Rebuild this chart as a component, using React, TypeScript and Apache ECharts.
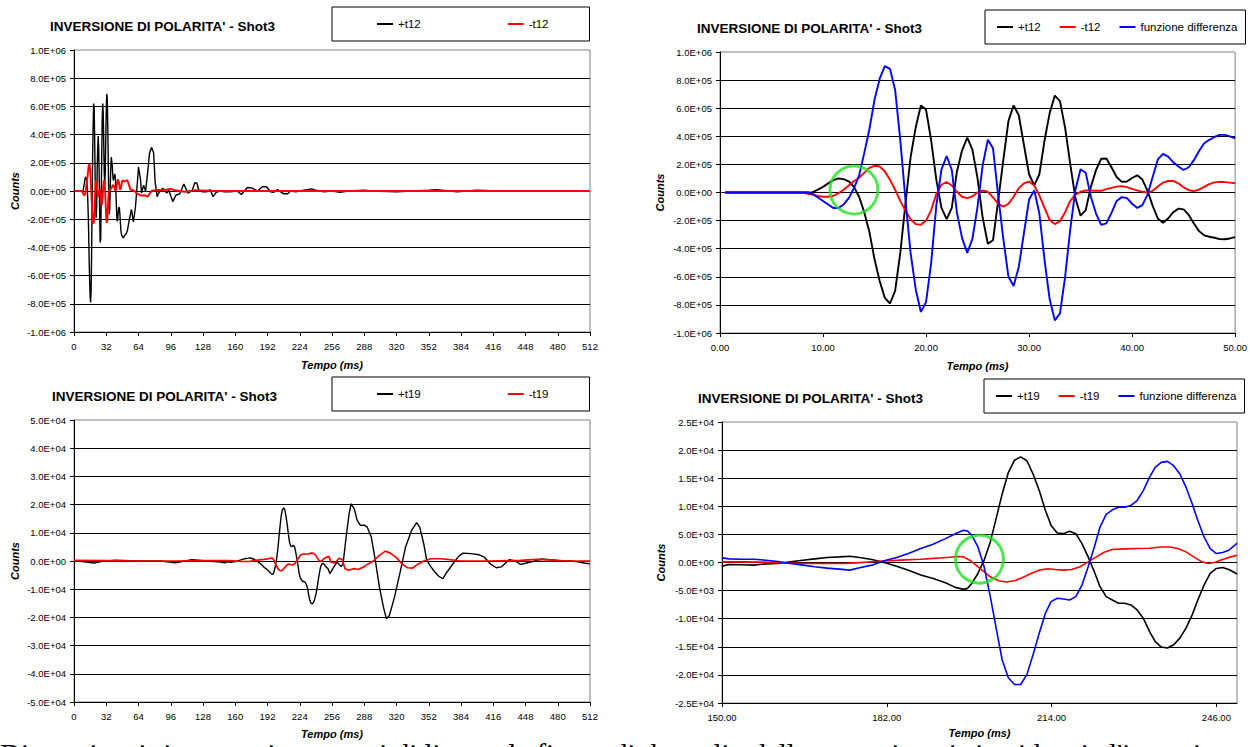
import React, { useEffect, useRef } from 'react';
import * as echarts from 'echarts';

// ---------- Trace 12: first 50 ms (sample times in ms, values in counts) ----------
const t12ZoomTime = [
  0.5, 8, 8.5, 9, 9.5, 10, 10.5, 11, 11.5, 12,
  12.5, 13, 13.5, 14, 14.5, 15, 15.5, 16, 16.5, 17,
  17.5, 18, 18.5, 19, 19.5, 20, 20.5, 21, 21.5, 22,
  22.5, 23, 23.5, 24, 24.5, 25, 25.5, 26, 26.5, 27,
  27.5, 28, 28.5, 29, 29.5, 30, 30.5, 31, 31.5, 32,
  32.5, 33, 33.5, 34, 34.5, 35, 35.5, 36, 36.5, 37,
  37.5, 38, 38.5, 39, 39.5, 40, 40.5, 41, 41.5, 42,
  42.5, 43, 43.5, 44, 44.5, 45, 45.5, 46, 46.5, 47,
  47.5, 48, 48.5, 49, 49.5, 50,
];
const t12ZoomPlus = [
  0, 0, 0, 3000, 20000, 40000, 65000, 88000, 100000, 95000,
  80000, 40000, -30000, -140000, -280000, -475000, -630000, -750000, -790000, -700000,
  -430000, -80000, 250000, 465000, 620000, 590000, 370000, 90000, -110000, -190000,
  -110000, 150000, 300000, 390000, 305000, 100000, -180000, -365000, -340000, -60000,
  230000, 510000, 620000, 550000, 340000, 130000, 50000, 130000, 370000, 565000,
  690000, 650000, 460000, 200000, -40000, -165000, -125000, 40000, 160000, 240000,
  242000, 180000, 110000, 76000, 78000, 103000, 122000, 92000, 12000, -95000,
  -185000, -215000, -185000, -140000, -115000, -120000, -160000, -220000, -275000, -305000,
  -315000, -322000, -332000, -333000, -327000, -318000,
];
const t12ZoomMinus = [
  0, 0, -10000, -15000, -25000, -30000, -30000, -25000, -5000, 20000,
  50000, 80000, 105000, 140000, 175000, 190000, 185000, 150000, 90000, 20000,
  -60000, -130000, -190000, -225000, -230000, -200000, -125000, -10000, 55000, 75000,
  50000, 5000, -30000, -40000, -28000, 0, 14000, 5000, -35000, -80000,
  -100000, -80000, -30000, 30000, 65000, 78000, 50000, -20000, -110000, -195000,
  -225000, -205000, -140000, -60000, -15000, 5000, 14000, 13000, 12000, 12000,
  24000, 33000, 42000, 45000, 38000, 26000, 15000, 5000, 0, 12000,
  42000, 70000, 82000, 82000, 65000, 38000, 16000, 10000, 20000, 40000,
  60000, 72000, 76000, 74000, 70000, 66000,
];
const t12ZoomDiff = [
  0, 0, 0, -10000, -35000, -60000, -85000, -110000, -110000, -85000,
  -40000, 30000, 120000, 280000, 450000, 660000, 810000, 900000, 880000, 730000,
  375000, -50000, -430000, -690000, -850000, -780000, -500000, -90000, 165000, 260000,
  160000, -145000, -325000, -430000, -330000, -100000, 195000, 375000, 315000, -20000,
  -330000, -600000, -665000, -530000, -290000, -50000, 15000, -150000, -480000, -760000,
  -910000, -860000, -600000, -260000, 20000, 165000, 140000, -30000, -150000, -230000,
  -220000, -145000, -60000, -33000, -40000, -80000, -110000, -90000, -15000, 110000,
  235000, 275000, 255000, 215000, 185000, 160000, 180000, 230000, 295000, 350000,
  375000, 395000, 410000, 410000, 400000, 385000,
];

// ---------- Trace 12: remainder of the record ----------
const t12TailTime = [
  52, 53, 55, 57, 59, 61, 63, 64, 66, 67,
  69, 71, 73, 75, 77, 79, 80.5, 82.5, 84, 88,
  92, 94, 98, 101, 105, 109, 113, 117, 120, 122,
  124, 128, 132, 135, 138, 141, 145, 149, 155, 162,
  166, 172, 177, 182, 187, 191, 195, 198, 202, 208,
  212, 215, 220, 228, 236, 240, 248, 256, 264, 272,
  288, 296, 320, 352, 360, 380, 400, 420, 460, 512,
];
const t12TailPlus = [
  -300000, -280000, -200000, -130000, -220000, -110000, 70000, 170000, 80000, -15000,
  40000, 0, 125000, 270000, 310000, 270000, 65000, -40000, -15000, 20000,
  -15000, 5000, -75000, -30000, -20000, 50000, -15000, 0, 60000, 55000,
  0, -5000, -5000, 10000, -40000, -10000, 0, -5000, -5000, 0,
  -25000, 25000, 20000, 0, 30000, 30000, -5000, -10000, 10000, -20000,
  -20000, 0, -5000, 5000, 15000, 5000, -5000, 0, -10000, 0,
  5000, 0, -5000, 5000, 10000, -5000, 5000, 0, 0, 0,
];
const t12TailMinusTime = [53, 56, 60, 63, 67, 70, 73, 77, 82, 88, 96, 100, 110, 120, 140, 200, 300, 400, 512];
const t12TailMinus = [78000, 10000, 0, -20000, -33000, -30000, -40000, 0, 7000, 5000, 14000, 5000, -5000, 5000, 0, 0, 0, 0, 0];

// ---------- Trace 19: 150-250 ms ----------
const t19ZoomTime = [
  150, 151.4, 153.8, 156.2, 158.5, 160.9, 163.3, 165.7, 168, 170.4,
  172.8, 174.8, 176.7, 179.1, 181.5, 183.9, 186.2, 188.6, 191, 193.4,
  195.3, 196.9, 197.7, 198.5, 199.7, 200.9, 202.1, 203.3, 204.4, 205.6,
  206.8, 208, 209.2, 210.4, 211.6, 212.8, 213.9, 215.1, 216.3, 217.5,
  218.7, 219.9, 221.1, 222.3, 223.4, 224.6, 225.8, 227, 228.2, 229.4,
  230.6, 231.8, 233, 234.1, 235.3, 236.5, 237.7, 238.9, 240.1, 241.3,
  242.4, 243.6, 244.8, 246, 247.2, 248.4, 249.6, 250,
];
const t19ZoomPlus = [
  -650, -350, -400, -470, -240, -180, 120, 410, 650, 890,
  1000, 1120, 890, 530, 0, -650, -1360, -2240, -2830, -3600,
  -4430, -4780, -4600, -3720, -1950, 410, 3660, 8080, 12200, 16000,
  18200, 18800, 18100, 15750, 12800, 9260, 6600, 5250, 5130, 5550,
  5130, 3360, 1000, -1650, -4300, -6080, -6670, -7260, -7260, -7550,
  -8440, -9900, -12270, -14040, -15050, -15220, -14630, -13450, -11680, -9320,
  -6670, -4010, -1950, -1060, -890, -1240, -1830, -2060,
];
const t19ZoomDiff = [
  830, 650, 590, 590, 410, 180, -180, -470, -770, -1000,
  -1180, -1360, -940, -470, 300, 890, 1590, 2480, 3250, 4250,
  5130, 5720, 5600, 4840, 2770, -770, -6080, -12000, -17300, -20500,
  -21700, -21700, -19950, -16400, -12570, -9030, -6960, -6370, -6490, -6670,
  -6080, -4010, -770, 2770, 6310, 8560, 9380, 9850, 9850, 10150,
  11030, 12800, 15160, 16930, 17820, 18000, 17230, 15750, 13400, 10440,
  7490, 4540, 2480, 1590, 1770, 2180, 3070, 3480,
];
const t19ZoomMinusTime = [
  150, 153.8, 157.8, 161.7, 165.7, 169.6, 173.6, 176, 179.1, 182.3,
  185.5, 188.6, 191.8, 194.2, 195.7, 196.9, 198.1, 199.3, 200.5, 202.1,
  203.7, 205.2, 206.8, 208.4, 210, 211.6, 213.2, 214.7, 216.3, 217.9,
  219.5, 221.1, 222.7, 224.2, 225.8, 228.2, 230.6, 233, 235.3, 236.9,
  238.5, 240.1, 241.6, 243.2, 244.4, 245.6, 247.2, 248.8, 250,
];
const t19ZoomMinus = [
  120, 120, 60, -60, -180, -180, -180, -60, 120, 300,
  470, 590, 770, 940, 1060, 1000, 410, -470, -1360, -2540,
  -3250, -3480, -3250, -2660, -1950, -1360, -1120, -1240, -1360, -1240,
  -770, 120, 1000, 1830, 2300, 2420, 2480, 2540, 2770, 2770,
  2480, 1890, 1000, 120, -180, 0, 530, 1000, 1300,
];

// ---------- Trace 19: before 150 ms and after 250 ms ----------
const t19HeadTime = [0, 8, 20, 27, 41, 56, 71, 86, 101, 117, 132, 145];
const t19HeadPlus = [0, -200, -700, -200, 300, 100, 0, 0, -600, 500, 0, -400];
const t19HeadMinusTime = [0, 30, 60, 100, 130, 145];
const t19HeadMinus = [200, 100, 0, 0, 100, 100];

const t19TailTime = [
  252, 254, 258, 261, 265, 267, 270, 273, 275, 278,
  281, 284, 288, 291, 295, 299, 303, 307, 310, 313,
  318, 324, 329, 335, 340, 343, 347, 350, 354, 358,
  362, 366, 369, 375, 381, 386, 394, 402, 407, 413,
  419, 424, 432, 438, 443, 449, 457, 464, 472, 478,
  485, 493, 500, 506, 512,
];
const t19TailPlus = [
  -2700, -4500, -2000, -400, -2000, -1000, 8500, 16800, 20300, 18600,
  14400, 12700, 12700, 12000, 8500, 200, -9200, -16300, -20500, -19300,
  -12800, -3300, 5000, 10900, 13600, 12000, 6200, 200, -2000, -3900,
  -5400, -6300, -4500, -1500, 1400, 2800, 2600, 2200, 1400, -1000,
  -2400, -2100, 500, 0, -1200, -700, 0, 700, 500, 300,
  0, 0, -300, -700, -1000,
];
const t19TailMinusTime = [
  253, 255, 259, 263, 266, 269, 272, 278, 282, 288,
  291, 297, 303, 309, 314, 320, 326, 331, 336, 341,
  347, 354, 364, 373, 383, 413, 443, 459, 474, 489,
  512,
];
const t19TailMinus = [
  1600, -400, -700, 1000, 500, -2700, -3300, -2700, -3000, -2000,
  -1200, 0, 2000, 3500, 2800, 1200, -1200, -2400, -2500, -1200,
  0, 800, 800, 500, 0, 0, 200, 600, 300, 0,
  0,
];

// Points where the polarity inversion is circled (time ms, counts)
const inversionT12 = [13.0, 18000];
const inversionT19 = [200.0, 600];

const chartTitle = "INVERSIONE DI POLARITA' - Shot3";
const fullTicks = [0, 512, 32];
const detailT12Ticks = [0, 50, 10];
const detailT19Ticks = [150, 182, 214, 246];
const footerText =
  "Di seguito si riportano i segmenti di linea e le figure di dettaglio delle tracce in cui si evidenzia l'inversione di polarità del segnale";

const FONT = 'Arial, "Liberation Sans", sans-serif';

const pairs = (ts: number[], vs: number[]) => ts.map((t, i) => [t, vs[i]]);

function sci(v: number): string {
  if (Math.abs(v) < 1e-9) return '0.0E+00';
  let e = Math.floor(Math.log10(Math.abs(v)) + 1e-9);
  let m = v / Math.pow(10, e);
  if (Math.abs(Number(m.toFixed(1))) >= 10) {
    e += 1;
    m = v / Math.pow(10, e);
  }
  const sign = e < 0 ? '-' : '+';
  return `${m.toFixed(1)}E${sign}${String(Math.abs(e)).padStart(2, '0')}`;
}

function xAxisDef(gridIndex: number, min: number, max: number, nameGap: number, extra: any) {
  return {
    type: 'value',
    gridIndex,
    min,
    max,
    name: 'Tempo (ms)',
    nameLocation: 'middle',
    nameGap,
    nameTextStyle: { fontFamily: FONT, fontSize: 11, fontWeight: 'bold', fontStyle: 'italic', color: '#000' },
    axisLine: { show: true, onZero: false, lineStyle: { color: '#000', width: 1 } },
    axisTick: { show: true, length: 4, lineStyle: { color: '#000', width: 1 } },
    splitLine: { show: false },
    ...extra,
    axisLabel: {
      fontFamily: FONT,
      fontSize: 9.5,
      color: '#000',
      margin: 9,
      showMinLabel: true,
      ...(extra.axisLabel || {}),
    },
  };
}

function yAxisDef(gridIndex: number, limit: number, interval: number, nameGap: number) {
  return {
    type: 'value',
    gridIndex,
    min: -limit,
    max: limit,
    interval,
    name: 'Counts',
    nameLocation: 'middle',
    nameGap,
    nameTextStyle: { fontFamily: FONT, fontSize: 11, fontWeight: 'bold', fontStyle: 'italic', color: '#000' },
    axisLine: { show: true, onZero: false, lineStyle: { color: '#000', width: 1 } },
    axisTick: { show: true, length: 4, lineStyle: { color: '#000', width: 1 } },
    axisLabel: { fontFamily: FONT, fontSize: 9.5, color: '#000', margin: 8, formatter: sci },
    splitLine: { show: true, showMaxLine: false, lineStyle: { color: '#000', width: 1 } },
  };
}

function lineSeries(name: string, idx: number, data: number[][], color: string, width: number) {
  return {
    type: 'line',
    name,
    xAxisIndex: idx,
    yAxisIndex: idx,
    data,
    color,
    showSymbol: false,
    symbol: 'none',
    silent: true,
    lineStyle: { color, width },
    itemStyle: { color },
  };
}

function circleSeries(idx: number, point: number[]) {
  return {
    type: 'scatter',
    xAxisIndex: idx,
    yAxisIndex: idx,
    data: [point],
    symbol: 'circle',
    symbolSize: 48,
    silent: true,
    z: 6,
    itemStyle: { color: 'rgba(0,0,0,0)', borderColor: '#22e022', borderWidth: 3 },
  };
}

function titleDef(left: number, top: number) {
  return {
    text: chartTitle,
    left,
    top,
    padding: 0,
    textStyle: { fontFamily: FONT, fontSize: 13.5, fontWeight: 'bold', color: '#000' },
  };
}

function legendDef(left: number, top: number, names: string[], padding: number[], itemGap: number) {
  return {
    left,
    top,
    data: names,
    padding,
    itemGap,
    itemWidth: 16,
    itemHeight: 2,
    icon: 'rect',
    selectedMode: false,
    borderColor: '#000',
    borderWidth: 1,
    backgroundColor: '#fff',
    textStyle: { fontFamily: FONT, fontSize: 11.5, color: '#000', lineHeight: 14 },
  };
}

export default function App() {
  const ref = useRef<HTMLDivElement>(null);

  useEffect(() => {
    if (!ref.current) return;
    const chart = echarts.init(ref.current, undefined, { renderer: 'svg' });

    const plus12All = [...pairs(t12ZoomTime, t12ZoomPlus), ...pairs(t12TailTime, t12TailPlus)];
    const minus12All = [...pairs(t12ZoomTime, t12ZoomMinus), ...pairs(t12TailMinusTime, t12TailMinus)];
    const plus19All = [
      ...pairs(t19HeadTime, t19HeadPlus),
      ...pairs(t19ZoomTime, t19ZoomPlus),
      ...pairs(t19TailTime, t19TailPlus),
    ];
    const minus19All = [
      ...pairs(t19HeadMinusTime, t19HeadMinus),
      ...pairs(t19ZoomMinusTime, t19ZoomMinus),
      ...pairs(t19TailMinusTime, t19TailMinus),
    ];

    const gridStyle = { show: true, borderColor: '#808080', borderWidth: 1, backgroundColor: 'rgba(0,0,0,0)' };

    chart.setOption({
      animation: false,
      title: [titleDef(50, 19), titleDef(697, 21), titleDef(52, 389), titleDef(698, 391)],
      legend: [
        legendDef(332, 7, ['+t12', '-t12'], [10, 41, 10, 45], 87),
        legendDef(985, 10, ['+t12', '-t12', 'funzione differenza'], [10, 8, 10, 12], 19),
        legendDef(332, 377, ['+t19', '-t19'], [10, 41, 10, 45], 87),
        legendDef(984, 379, ['+t19', '-t19', 'funzione differenza'], [10, 8, 10, 12], 19),
      ],
      grid: [
        { left: 74, top: 50, width: 516, height: 282, ...gridStyle },
        { left: 720, top: 52, width: 521, height: 281, ...gridStyle },
        { left: 74, top: 420, width: 516, height: 282, ...gridStyle },
        { left: 722, top: 422, width: 515, height: 281, ...gridStyle },
      ],
      xAxis: [
        xAxisDef(0, fullTicks[0], fullTicks[1], 27, { interval: fullTicks[2], axisLabel: {} }),
        xAxisDef(1, detailT12Ticks[0], detailT12Ticks[1], 27, {
          interval: detailT12Ticks[2],
          axisLabel: { formatter: (v: number) => v.toFixed(2) },
        }),
        xAxisDef(2, fullTicks[0], fullTicks[1], 26, { interval: fullTicks[2], axisLabel: {} }),
        xAxisDef(3, 150, 250, 24, {
          axisTick: { show: true, length: 4, lineStyle: { color: '#000', width: 1 }, customValues: detailT19Ticks },
          axisLabel: { customValues: detailT19Ticks, formatter: (v: number) => v.toFixed(2) },
        }),
      ],
      yAxis: [
        yAxisDef(0, 1000000, 200000, 54),
        yAxisDef(1, 1000000, 200000, 55),
        yAxisDef(2, 50000, 10000, 54),
        yAxisDef(3, 25000, 5000, 56),
      ],
      series: [
        lineSeries('+t12', 0, plus12All, '#000000', 1.4),
        lineSeries('-t12', 0, minus12All, '#ff0000', 1.9),

        lineSeries('+t12', 1, pairs(t12ZoomTime, t12ZoomPlus), '#000000', 1.9),
        lineSeries('-t12', 1, pairs(t12ZoomTime, t12ZoomMinus), '#ff0000', 1.9),
        lineSeries('funzione differenza', 1, pairs(t12ZoomTime, t12ZoomDiff), '#0000ff', 1.9),
        circleSeries(1, inversionT12),

        lineSeries('+t19', 2, plus19All, '#000000', 1.4),
        lineSeries('-t19', 2, minus19All, '#ff0000', 1.7),

        lineSeries('+t19', 3, pairs(t19ZoomTime, t19ZoomPlus), '#000000', 1.6),
        lineSeries('-t19', 3, pairs(t19ZoomMinusTime, t19ZoomMinus), '#ff0000', 1.6),
        lineSeries('funzione differenza', 3, pairs(t19ZoomTime, t19ZoomDiff), '#0000ff', 1.6),
        circleSeries(3, inversionT19),
      ],
      graphic: [
        {
          type: 'text',
          left: 0,
          top: 739,
          silent: true,
          style: {
            text: footerText,
            fill: '#000',
            font: '29px "Liberation Serif", "Times New Roman", serif',
          },
        },
      ],
    });

    return () => chart.dispose();
  }, []);

  return (
    <div
      ref={ref}
      style={{ position: 'fixed', left: 0, top: 0, width: 1250, height: 747, background: '#fff', overflow: 'hidden' }}
    />
  );
}
